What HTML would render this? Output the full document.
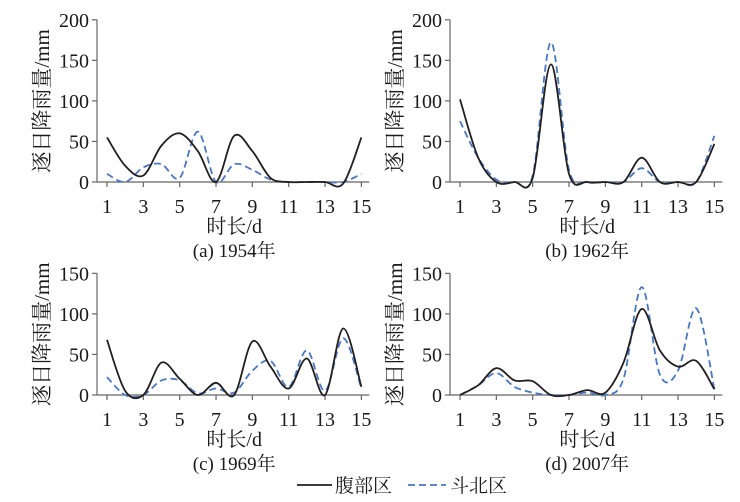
<!DOCTYPE html>
<html><head><meta charset="utf-8"><style>
html,body{margin:0;padding:0;background:#fff;}
svg{display:block;}
text{font-family:"Liberation Serif","Noto Serif CJK SC",serif;fill:#1a1a1a;}
</style></head><body>
<svg id="s" width="740" height="502" viewBox="0 0 740 502" xmlns="http://www.w3.org/2000/svg"></svg>
<script>
const S=document.getElementById('s');let h='';
const panels=[
 {ax:97,x1:107,y0:182,max:200,tk:[0,50,100,150,200],cap:'(a) 1954年',ylx:42,
  a:[55,20,8,45,60,38,0,57,38,5,0,0,0,-2,55],b:[10,0,18,22,5,62,0,22,15,3,0,0,0,0,10]},
 {ax:450,x1:460,y0:182,max:200,tk:[0,50,100,150,200],cap:'(b) 1962年',ylx:395,
  a:[102,30,0,0,5,145,10,0,0,0,30,0,0,0,47],b:[75,30,3,0,8,172,15,0,0,0,17,0,0,0,57]},
 {ax:97,x1:107,y0:395,max:150,tk:[0,50,100,150],cap:'(c) 1969年',ylx:42,
  a:[68,5,0,40,20,0,15,0,66,35,8,45,0,82,10],b:[22,0,0,18,18,2,8,3,30,42,10,55,5,70,8]},
 {ax:450,x1:460,y0:395,max:150,tk:[0,50,100,150],cap:'(d) 2007年',ylx:395,
  a:[0,12,33,18,17,0,0,6,3,40,106,55,35,42,7],b:[0,12,27,10,3,0,0,3,0,20,133,25,30,107,7]}
];
const k=0.811,dx=18.17;
function path(p,v){const pts=v.map((y,i)=>[p.x1+i*dx,p.y0-y*k]);let d='M'+pts[0].join(',');
 for(let i=0;i<pts.length-1;i++){const p0=pts[i-1]||pts[i],p1=pts[i],p2=pts[i+1],p3=pts[i+2]||p2;
  const c1=[p1[0]+(p2[0]-p0[0])/6,p1[1]+(p2[1]-p0[1])/6],c2=[p2[0]-(p3[0]-p1[0])/6,p2[1]-(p3[1]-p1[1])/6];
  d+=` C${c1[0].toFixed(1)},${c1[1].toFixed(1)} ${c2[0].toFixed(1)},${c2[1].toFixed(1)} ${p2[0].toFixed(1)},${p2[1].toFixed(1)}`;}
 return d;}
for(const p of panels){
 const top=p.y0-p.max*k, xr=p.x1+14*dx+8;
 h+=`<line x1="${p.ax}" y1="${top}" x2="${p.ax}" y2="${p.y0}" stroke="#666" stroke-width="1.2"/>`;
 h+=`<line x1="${p.ax}" y1="${p.y0}" x2="${xr}" y2="${p.y0}" stroke="#666" stroke-width="1.2"/>`;
 for(const t of p.tk){const y=p.y0-t*k;h+=`<line x1="${p.ax-5}" y1="${y}" x2="${p.ax}" y2="${y}" stroke="#666" stroke-width="1.2"/><text x="${p.ax-8}" y="${y+7}" font-size="20" text-anchor="end">${t}</text>`;}
 for(let d=1;d<=15;d+=2){const x=p.x1+(d-1)*dx;h+=`<line x1="${x}" y1="${p.y0}" x2="${x}" y2="${p.y0+5}" stroke="#666" stroke-width="1.2"/><text x="${x}" y="${p.y0+31}" font-size="20" text-anchor="middle">${d}</text>`;}
 const cx=p.x1+7*dx;
 h+=`<text x="${cx}" y="${p.y0+51}" font-size="20" text-anchor="middle">时长/d</text>`;
 h+=`<text x="${cx}" y="${p.y0+75}" font-size="19" text-anchor="middle">${p.cap}</text>`;
 const my=p.y0-p.max*k/2;
 h+=`<text x="${p.ylx}" y="${my}" font-size="21" text-anchor="middle" transform="rotate(-90 ${p.ylx} ${my})" dy="7">逐日降雨量/mm</text>`;
 h+=`<path d="${path(p,p.b)}" fill="none" stroke="#4a78c0" stroke-width="1.8" stroke-dasharray="7,4"/>`;
 h+=`<path d="${path(p,p.a)}" fill="none" stroke="#231f20" stroke-width="1.8"/>`;
}
h+=`<line x1="297" y1="485" x2="332" y2="485" stroke="#231f20" stroke-width="1.8"/><text x="335" y="492" font-size="19">腹部区</text>`;
h+=`<line x1="408" y1="485" x2="446" y2="485" stroke="#4a78c0" stroke-width="1.8" stroke-dasharray="7,4"/><text x="450" y="492" font-size="19">斗北区</text>`;
S.innerHTML=h;
</script>
</body></html>
